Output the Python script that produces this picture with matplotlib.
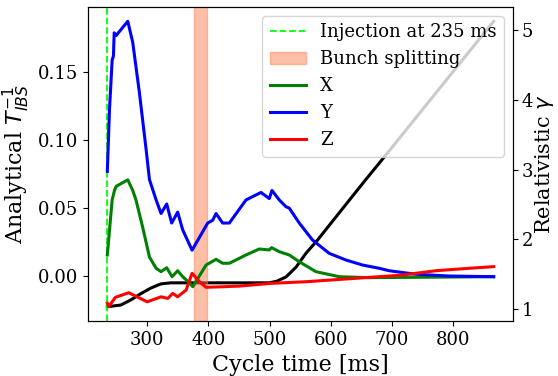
import matplotlib
matplotlib.use("Agg")
import matplotlib.pyplot as plt
import numpy as np

plt.rcParams['font.family'] = ['DejaVu Serif']

# Relativistic gamma (right axis)
t_gamma = [235, 256.9, 273.2, 289.6, 305.9, 322.2, 338.5, 420, 499.5, 512, 526.8, 543.1,
           559.4, 578.3, 602.8, 630, 657.3, 687.1, 771.5, 866]
gamma = [1.033, 1.057, 1.13, 1.22, 1.30, 1.36, 1.376, 1.376, 1.376, 1.40, 1.46, 1.60,
         1.80, 1.99, 2.26, 2.56, 2.86, 3.18, 4.10, 5.13]

# Analytical IBS growth rates
t_y = [235, 238.5, 242.9, 245, 246.2, 249.4, 268.4, 276.5, 287.4, 298.4, 303.8, 314.7,
       322.8, 332, 340.1, 349.9, 358.1, 373.4, 398.9, 407, 412.6, 423.3, 434.3, 461.5,
       486, 499.5, 503.9, 515.8, 526.8, 532.1, 548.5, 570.1, 597.4, 624.6, 651.7, 679,
       695.3, 738.8, 793.2, 866]
y_rate = [0.077, 0.122, 0.159, 0.162, 0.179, 0.177, 0.1875, 0.172, 0.135, 0.093, 0.071, 0.056,
          0.046, 0.053, 0.039, 0.047, 0.034, 0.019, 0.039, 0.041, 0.046, 0.039, 0.039, 0.056,
          0.0615, 0.057, 0.063, 0.056, 0.051, 0.050, 0.039, 0.0265, 0.0167, 0.0118, 0.0081, 0.0057,
          0.0039, 0.0013, 0.0, -0.0005]

t_x = [235, 242.9, 246.7, 249.4, 268.4, 276.5, 281.8, 292.7, 303.8, 314.7, 322.8, 332,
       340.8, 349.9, 358.1, 369, 374.5, 396.3, 412.6, 423.3, 434.3, 461.5, 483.2, 499.5,
       503.3, 515.8, 532.1, 548.5, 575.7, 613.7, 662.6, 866]
x_rate = [0.0155, 0.056, 0.063, 0.066, 0.0708, 0.063, 0.056, 0.036, 0.014, 0.0057, 0.0032, 0.0061,
          -0.0005, 0.0039, -0.0005, -0.0049, -0.0079, 0.0081, 0.0123, 0.0094, 0.0094, 0.0155, 0.0199, 0.0192,
          0.0209, 0.0179, 0.0155, 0.0105, 0.0032, -0.0005, -0.0012, -0.0005]

t_z = [235, 237.2, 248.2, 270, 300, 322.8, 333.7, 341.8, 349.9, 363.7, 373.4, 385.4,
       396.3, 423.3, 450.6, 502.3, 559.4, 662.6, 716.9, 771.4, 825.8, 866]
z_rate = [-0.020, -0.0226, -0.0157, -0.0123, -0.019, -0.0153, -0.0165, -0.0128, -0.0153, -0.0103, 0.002, -0.0042,
          -0.0083, -0.0079, -0.0074, -0.0054, -0.0042, -0.001, 0.0007, 0.0039, 0.0057, 0.0069]

injection_time = 235
splitting = (377, 398)

fig = plt.figure(figsize=(5.58, 3.76), dpi=100)
ax1 = fig.add_axes([88/558, 1-321/376, (513-88)/558, (321-7)/376])
ax2 = ax1.twinx()
ax1.set_zorder(ax2.get_zorder() + 1)
ax1.patch.set_visible(False)

ax2.plot(t_gamma, gamma, color='black', lw=2.2)
ax2.set_ylabel(r'Relativistic $\gamma$', fontsize=15, labelpad=0)

h_inj = ax1.axvline(injection_time, color='lime', ls='--', lw=1.3, label='Injection at 235 ms')
h_sp = ax1.axvspan(splitting[0], splitting[1], color='coral', alpha=0.5, label='Bunch splitting')
hx, = ax1.plot(t_x, x_rate, color='green', lw=2.2, label='X')
hy, = ax1.plot(t_y, y_rate, color='blue', lw=2.2, label='Y')
hz, = ax1.plot(t_z, z_rate, color='red', lw=2.2, label='Z')

ax1.set_xlabel('Cycle time [ms]', fontsize=16)
ax1.set_ylabel(r'Analytical $T^{-1}_{IBS}$', fontsize=16)
ax1.tick_params(labelsize=13)
ax2.tick_params(labelsize=13, pad=2.5)
ax1.set_yticks([0.0, 0.05, 0.10, 0.15])
ax2.set_yticks([1, 2, 3, 4, 5])

ax1.legend(handles=[h_inj, h_sp, hx, hy, hz], loc='upper right', fontsize=13)

fig.savefig('out.png', dpi=100)
